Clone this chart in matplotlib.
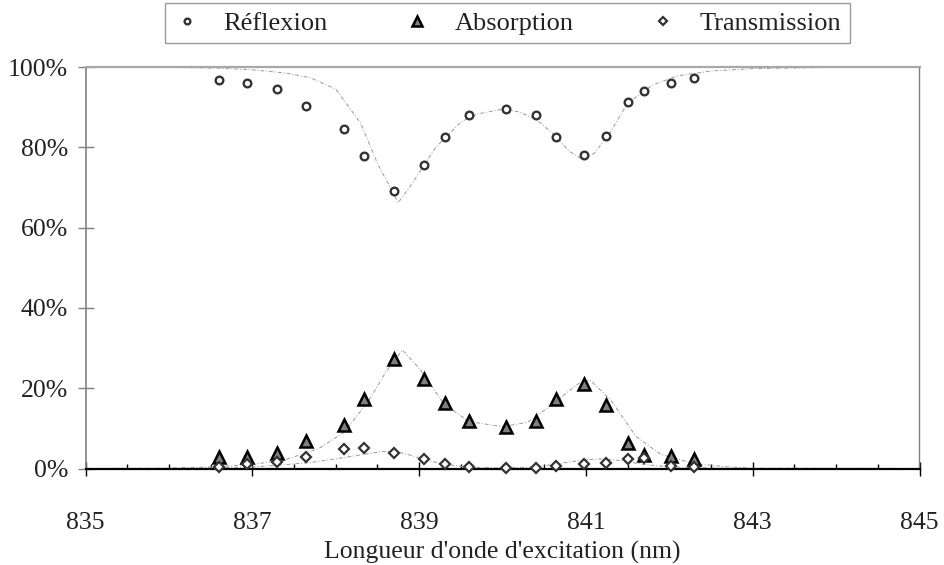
import numpy as np
import matplotlib
matplotlib.use("Agg")
from matplotlib import pyplot as plt
from matplotlib.ticker import MultipleLocator, FuncFormatter

# measured points
wl = [836.60, 836.94, 837.30, 837.64, 838.10, 838.34, 838.70, 839.06, 839.31, 839.60,
      840.04, 840.40, 840.64, 840.98, 841.24, 841.50, 841.70, 842.02, 842.30]
refl = [96.7, 96.1, 94.4, 90.4, 84.6, 77.8, 69.2, 75.5, 82.6, 88.0,
        89.5, 88.0, 82.5, 78.0, 82.8, 91.3, 94.0, 96.1, 97.3]
absorp = [2.9, 2.9, 3.9, 6.8, 10.8, 17.2, 27.2, 22.2, 16.2, 11.9,
          10.4, 11.9, 17.2, 21.0, 15.8, 6.4, 3.4, 3.2, 2.4]
trans = [0.45, 1.0, 1.7, 2.9, 4.8, 5.0, 3.9, 2.3, 1.2, 0.4,
         0.2, 0.2, 0.5, 1.1, 1.4, 2.3, 2.5, 0.7, 0.4]

# model curves
refl_fit_x = [835, 836, 836.6, 837, 837.4, 837.7, 838.0, 838.3, 838.5, 838.75, 838.9,
              839.2, 839.5, 839.7, 840.0, 840.2, 840.4, 840.6, 840.8, 840.97, 841.1,
              841.3, 841.5, 841.8, 842.1, 842.5, 843, 844, 845]
refl_fit_y = [100, 99.9, 99.7, 99.3, 98.5, 97.3, 94.5, 86, 76, 66.2, 70.5,
              80, 86.3, 88.3, 89.5, 88.8, 87, 83.5, 79, 76.8, 78.5,
              84, 91, 95.5, 97.8, 99, 99.6, 99.9, 100]
abs_fit_x = [835, 836, 836.5, 837, 837.4, 837.8, 838.1, 838.4, 838.6, 838.8, 839.0,
             839.3, 839.6, 840.0, 840.3, 840.6, 840.9, 841.05, 841.3, 841.6, 841.9,
             842.3, 842.7, 843, 845]
abs_fit_y = [0, 0.1, 0.4, 1.0, 2.2, 5, 9, 17, 24, 29.5, 25,
             16, 11.7, 10.4, 11.5, 16, 21, 22, 17, 8, 3.5,
             1.2, 0.4, 0.1, 0]
trans_fit_x = [835, 836, 836.6, 837, 837.3, 837.7, 838.0, 838.3, 838.55, 838.7, 838.9,
               839.1, 839.3, 839.55, 840.0, 840.4, 840.7, 841.0, 841.2, 841.4, 841.7,
               842.0, 842.5, 843, 845]
trans_fit_y = [0, 0, 0.2, 0.4, 0.8, 1.5, 2.4, 3.4, 4.2, 4.3, 3.3,
               2.0, 1.1, 0.4, 0.1, 0.4, 1.3, 2.2, 2.4, 2.0, 1.0,
               0.4, 0.1, 0, 0]

xticks = [835, 837, 839, 841, 843, 845]
yticks = [0, 20, 40, 60, 80, 100]

plt.rcParams["font.family"] = ["Liberation Serif", "DejaVu Serif"]
plt.rcParams["font.size"] = 18.5

fig = plt.figure(figsize=(9.44, 5.65), dpi=100)
ax = fig.add_axes([85.5 / 944, 1 - 468.5 / 565, 834 / 944, 401.5 / 565])

fit_style = dict(color="0.6", lw=0.7, linestyle=(0, (4, 2, 1, 2)), zorder=2)
ax.plot(refl_fit_x, refl_fit_y, **fit_style)
ax.plot(abs_fit_x, abs_fit_y, **fit_style)
ax.plot(trans_fit_x, trans_fit_y, **fit_style)

ax.plot(wl, refl, "o", ms=5.5, mfc="white", mec="#333333", mew=1.7,
        label="Réflexion", zorder=4, clip_on=False)
ax.plot(wl, absorp, "^", ms=9, mfc="#808080", mec="black", mew=1.8,
        label="Absorption", zorder=4, clip_on=False)
ax.plot(wl, trans, "D", ms=5, mfc="white", mec="#333333", mew=1.6,
        label="Transmission", zorder=5, clip_on=False)

ax.set_xlim(835, 845)
ax.set_ylim(0, 100)
ax.set_xticks(xticks)
ax.xaxis.set_minor_locator(MultipleLocator(0.5))
ax.set_yticks(yticks)
ax.yaxis.set_major_formatter(FuncFormatter(lambda v, p: f"{v:.0f}%"))

ax.tick_params(axis="x", which="major", direction="inout", length=10, width=1,
               color="black", pad=26, labelcolor="#222222")
ax.tick_params(axis="x", which="minor", direction="in", length=3.6, width=1,
               color="black")
ax.tick_params(axis="y", which="major", direction="inout", length=11, width=1,
               color="#808080", pad=7, labelcolor="#222222")

ax.spines["bottom"].set_color("black")
ax.spines["bottom"].set_linewidth(1.6)
ax.spines["left"].set_color("#808080")
ax.spines["left"].set_linewidth(1.2)
ax.spines["top"].set_color("#a8a8a8")
ax.spines["top"].set_linewidth(1.6)
ax.spines["right"].set_color("#808080")
ax.spines["right"].set_linewidth(1.0)

ax.set_xlabel("Longueur d'onde d'excitation (nm)", color="#222222", labelpad=5)

leg = fig.legend(loc="center", bbox_to_anchor=(507.5 / 944, 1 - 23 / 565),
                 ncol=3, handlelength=1.0, handletextpad=0.9, columnspacing=2.9,
                 borderpad=0.3, fancybox=False, edgecolor="#808080",
                 fontsize=19, markerscale=0.75)
leg.get_frame().set_linewidth(1.0)
for t in leg.get_texts():
    t.set_color("#222222")

fig.savefig("out.png", dpi=100)
